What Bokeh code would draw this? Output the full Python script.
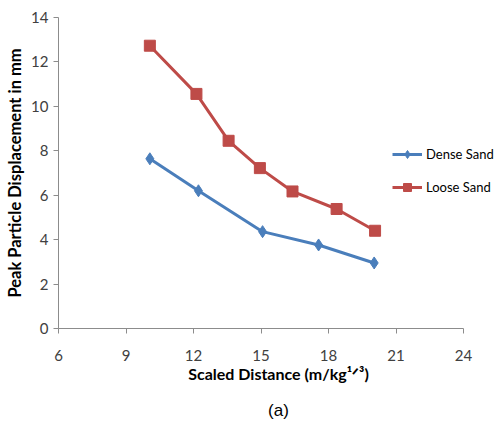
from bokeh.plotting import figure
from bokeh.models import Legend, LegendItem, FixedTicker, Range1d, LinearAxis
from bokeh.embed import file_html
from bokeh.resources import INLINE

dense_x = [10.06, 12.22, 15.07, 17.56, 20.03]
dense_y = [7.64, 6.2, 4.36, 3.76, 2.95]
loose_x = [10.06, 12.13, 13.56, 14.95, 16.4, 18.36, 20.07]
loose_y = [12.73, 10.56, 8.45, 7.22, 6.17, 5.38, 4.4]
x_ticks = [6, 9, 12, 15, 18, 21, 24]
y_ticks = [0, 2, 4, 6, 8, 10, 12, 14]

FONT = "Lato"
BLUE = "#4A7EBB"
RED = "#BE4B48"

# frame spans the full width to the right so the legend is not clipped;
# the visible axis stops at the last tick (24)
x_end = x_ticks[0] + (x_ticks[-1] - x_ticks[0]) * (498 - 58) / (463 - 58)

p = figure(width=498, height=430, output_backend="svg", toolbar_location=None,
           x_range=Range1d(x_ticks[0], x_end), y_range=Range1d(y_ticks[0], y_ticks[-1]),
           min_border_left=58, min_border_right=0, min_border_top=17, min_border_bottom=102)
p.outline_line_color = None
p.xgrid.visible = False
p.ygrid.visible = False
p.background_fill_color = "white"
p.border_fill_color = "white"

for ax in (p.xaxis[0], p.yaxis[0]):
    ax.axis_line_color = "#8C8C8C"
    ax.major_tick_line_color = "#8C8C8C"
    ax.minor_tick_line_color = None
    ax.major_tick_out = 5
    ax.major_tick_in = 0
    ax.major_label_text_font = FONT
    ax.major_label_text_font_size = "15px"
    ax.major_label_text_color = "#404040"
    ax.axis_label_text_font = FONT
    ax.axis_label_text_font_style = "bold"
    ax.axis_label_text_color = "#000000"

p.xaxis.ticker = FixedTicker(ticks=x_ticks)
p.xaxis.bounds = (x_ticks[0], x_ticks[-1])
p.yaxis.ticker = FixedTicker(ticks=y_ticks)
p.xaxis.axis_label = "Scaled Distance (m/kg\u00b9\u141f\u00b3)"
p.xaxis.axis_label_text_font_size = "16px"
p.xaxis.axis_label_standoff = 0
p.xaxis.major_label_standoff = 16
p.yaxis.axis_label = "Peak Particle Displacement in mm"
p.yaxis.axis_label_text_font_size = "16.5px"
p.yaxis.axis_label_standoff = 3
p.yaxis.major_label_standoff = 5

# caption "(a)" below the axis title, carried by a bare axis
cap = LinearAxis(ticker=FixedTicker(ticks=[]), axis_label="(a)")
cap.axis_line_color = None
cap.major_tick_line_color = None
cap.minor_tick_line_color = None
cap.axis_label_text_font = "Liberation Sans"
cap.axis_label_text_font_size = "17px"
cap.axis_label_text_font_style = "normal"
cap.axis_label_text_color = "#000000"
cap.axis_label_standoff = 15
p.add_layout(cap, "below")

l1 = p.line(dense_x, dense_y, line_color=BLUE, line_width=3)
m1 = p.scatter(dense_x, dense_y, marker="diamond", size=12, fill_color=BLUE, line_color=BLUE)
l2 = p.line(loose_x, loose_y, line_color=RED, line_width=3)
m2 = p.scatter(loose_x, loose_y, marker="square", size=11, fill_color=RED, line_color=RED)

legend = Legend(items=[LegendItem(label="Dense Sand", renderers=[l1, m1]),
                       LegendItem(label="Loose Sand", renderers=[l2, m2])],
                location=(334, 131), orientation="vertical")
legend.border_line_color = None
legend.background_fill_alpha = 0
legend.padding = 0
legend.margin = 0
legend.spacing = 13
legend.glyph_width = 30
legend.glyph_height = 20
legend.label_standoff = 4
legend.label_text_font = FONT
legend.label_text_font_size = "13px"
legend.label_text_color = "#000000"
p.add_layout(legend, "center")

open("out.html", "w").write(file_html(p, INLINE))
